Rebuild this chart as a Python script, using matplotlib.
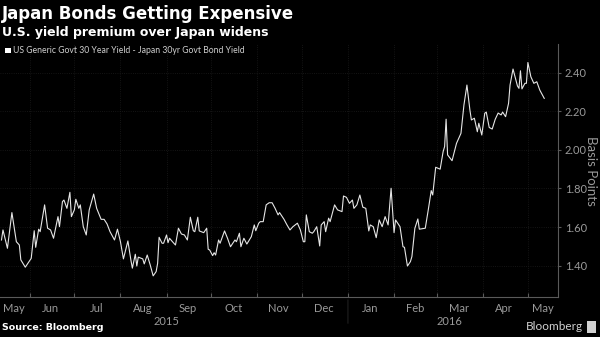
import pandas as pd
import matplotlib
matplotlib.use("Agg")
import matplotlib.pyplot as plt
import matplotlib.dates as mdates
from matplotlib.patches import Rectangle

# --- Andmed (loetud pildilt) ---
dates = [
    "2015-05-13", "2015-05-14", "2015-05-17", "2015-05-20", "2015-05-23", "2015-05-25",
    "2015-05-26", "2015-05-29", "2015-06-02", "2015-06-04", "2015-06-05", "2015-06-07",
    "2015-06-08", "2015-06-11", "2015-06-13", "2015-06-15", "2015-06-17", "2015-06-20",
    "2015-06-21", "2015-06-23", "2015-06-24", "2015-06-26", "2015-06-28", "2015-06-29",
    "2015-07-01", "2015-07-02", "2015-07-04", "2015-07-05", "2015-07-07", "2015-07-09",
    "2015-07-11", "2015-07-14", "2015-07-16", "2015-07-19", "2015-07-21", "2015-07-23",
    "2015-07-25", "2015-07-28", "2015-07-30", "2015-08-01", "2015-08-03", "2015-08-06",
    "2015-08-08", "2015-08-09", "2015-08-11", "2015-08-12", "2015-08-13", "2015-08-16",
    "2015-08-17", "2015-08-19", "2015-08-21", "2015-08-23", "2015-08-25", "2015-08-26",
    "2015-08-27", "2015-08-29", "2015-08-30", "2015-09-01", "2015-09-02", "2015-09-03",
    "2015-09-05", "2015-09-07", "2015-09-09", "2015-09-11", "2015-09-13", "2015-09-15",
    "2015-09-17", "2015-09-19", "2015-09-20", "2015-09-22", "2015-09-23", "2015-09-26",
    "2015-09-28", "2015-09-29", "2015-09-30", "2015-10-02", "2015-10-03", "2015-10-04",
    "2015-10-06", "2015-10-07", "2015-10-10", "2015-10-12", "2015-10-14", "2015-10-17",
    "2015-10-18", "2015-10-20", "2015-10-21", "2015-10-23", "2015-10-25", "2015-10-27",
    "2015-10-28", "2015-10-30", "2015-10-31", "2015-11-02", "2015-11-03", "2015-11-05",
    "2015-11-07", "2015-11-09", "2015-11-11", "2015-11-13", "2015-11-15", "2015-11-16",
    "2015-11-19", "2015-11-21", "2015-11-23", "2015-11-25", "2015-11-28", "2015-11-30",
    "2015-12-02", "2015-12-03", "2015-12-04", "2015-12-06", "2015-12-08", "2015-12-09",
    "2015-12-11", "2015-12-13", "2015-12-14", "2015-12-16", "2015-12-17", "2015-12-19",
    "2015-12-20", "2015-12-23", "2015-12-25", "2015-12-28", "2015-12-29", "2015-12-31",
    "2016-01-02", "2016-01-04", "2016-01-05", "2016-01-07", "2016-01-09", "2016-01-11",
    "2016-01-13", "2016-01-15", "2016-01-16", "2016-01-18", "2016-01-20", "2016-01-22",
    "2016-01-24", "2016-01-26", "2016-01-28", "2016-01-30", "2016-02-01", "2016-02-02",
    "2016-02-05", "2016-02-07", "2016-02-08", "2016-02-10", "2016-02-12", "2016-02-13",
    "2016-02-15", "2016-02-17", "2016-02-18", "2016-02-22", "2016-02-24", "2016-02-26",
    "2016-02-27", "2016-02-29", "2016-03-03", "2016-03-05", "2016-03-06", "2016-03-07",
    "2016-03-08", "2016-03-11", "2016-03-14", "2016-03-17", "2016-03-19", "2016-03-21",
    "2016-03-23", "2016-03-24", "2016-03-26", "2016-03-28", "2016-03-29", "2016-03-31",
    "2016-04-02", "2016-04-03", "2016-04-05", "2016-04-07", "2016-04-09", "2016-04-11",
    "2016-04-13", "2016-04-14", "2016-04-16", "2016-04-18", "2016-04-19", "2016-04-21",
    "2016-04-24", "2016-04-25", "2016-04-26", "2016-04-27", "2016-04-29", "2016-04-30",
    "2016-05-01", "2016-05-03", "2016-05-05", "2016-05-07", "2016-05-09", "2016-05-12",
]
spread = [
    1.533, 1.585, 1.490, 1.675, 1.524, 1.507,
    1.430, 1.392, 1.438, 1.581, 1.495, 1.589,
    1.576, 1.715, 1.594, 1.585, 1.542, 1.654,
    1.602, 1.732, 1.740, 1.697, 1.780, 1.654,
    1.689, 1.744, 1.697, 1.715, 1.602, 1.559,
    1.689, 1.771, 1.697, 1.640, 1.640, 1.616,
    1.576, 1.533, 1.589, 1.524, 1.435, 1.528,
    1.430, 1.387, 1.459, 1.398, 1.444, 1.435,
    1.409, 1.455, 1.404, 1.347, 1.369, 1.412,
    1.547, 1.516, 1.516, 1.559, 1.519, 1.542,
    1.524, 1.507, 1.594, 1.564, 1.559, 1.533,
    1.651, 1.581, 1.576, 1.651, 1.580, 1.571,
    1.594, 1.485, 1.481, 1.452, 1.467, 1.455,
    1.533, 1.516, 1.580, 1.542, 1.498, 1.533,
    1.524, 1.568, 1.498, 1.542, 1.512, 1.537,
    1.550, 1.611, 1.581, 1.620, 1.628, 1.628,
    1.715, 1.726, 1.726, 1.697, 1.663, 1.675,
    1.640, 1.611, 1.585, 1.602, 1.620, 1.585,
    1.524, 1.524, 1.663, 1.576, 1.568, 1.576,
    1.602, 1.502, 1.611, 1.628, 1.576, 1.646,
    1.628, 1.715, 1.689, 1.680, 1.761, 1.754,
    1.723, 1.740, 1.697, 1.715, 1.766, 1.703,
    1.697, 1.580, 1.611, 1.602, 1.545, 1.637,
    1.602, 1.654, 1.611, 1.801, 1.571, 1.637,
    1.602, 1.498, 1.495, 1.398, 1.421, 1.447,
    1.594, 1.642, 1.589, 1.594, 1.689, 1.789,
    1.766, 1.910, 1.900, 1.991, 2.017, 2.159,
    1.974, 1.944, 2.034, 2.086, 2.233, 2.336,
    2.207, 2.155, 2.164, 2.094, 2.138, 2.077,
    2.190, 2.196, 2.116, 2.108, 2.158, 2.191,
    2.181, 2.196, 2.172, 2.241, 2.336, 2.419,
    2.331, 2.319, 2.410, 2.316, 2.345, 2.345,
    2.453, 2.379, 2.345, 2.353, 2.310, 2.267,
]
yticks = [1.40, 1.60, 1.80, 2.00, 2.20, 2.40]
month_labels = ["May", "Jun", "Jul", "Aug", "Sep", "Oct", "Nov",
                "Dec", "Jan", "Feb", "Mar", "Apr", "May"]
month_label_pos = ["2015-05-21", "2015-06-15", "2015-07-16", "2015-08-16", "2015-09-15",
                   "2015-10-16", "2015-11-15", "2015-12-16", "2016-01-16", "2016-02-15",
                   "2016-03-16", "2016-04-15", "2016-05-11"]
year_labels = ["2015", "2016"]
year_label_pos = ["2015-09-01", "2016-03-09"]

x = pd.to_datetime(dates)
BG = "black"
GRAY = "#9a9a9a"
FONT = ["Lato", "DejaVu Sans"]

fig = plt.figure(figsize=(6.0, 3.37), dpi=100, facecolor=BG)
ax = fig.add_axes([0.0, 0.1187, 0.93, 0.7507], facecolor=BG)

ax.plot(x, spread, color="#e6e6e6", lw=0.8, solid_joinstyle="round")

ax.set_xlim(pd.Timestamp("2015-05-12"), pd.Timestamp("2016-05-21 06:00"))
ax.set_ylim(1.2375, 2.5487)

# --- Teljed ---
for s in ("left", "top"):
    ax.spines[s].set_visible(False)
for s in ("right", "bottom"):
    ax.spines[s].set_color("#5a5a5a")
    ax.spines[s].set_linewidth(0.8)

ax.yaxis.tick_right()
ax.set_yticks(yticks)
ax.set_yticklabels([f"{v:.2f}" for v in yticks], fontfamily=FONT, fontsize=8, color=GRAY)
ax.tick_params(axis="y", colors="#5a5a5a", length=2, width=0.8, pad=3, labelcolor=GRAY)
ax.yaxis.set_label_position("right")
ax.set_ylabel("Basis Points", rotation=270, color=GRAY, fontfamily=FONT, fontsize=9.5,
              labelpad=7)

ax.xaxis.set_major_locator(mdates.MonthLocator())
ax.xaxis.set_major_formatter(plt.NullFormatter())
ax.tick_params(axis="x", which="major", colors="#5a5a5a", length=3, width=0.8, direction="in")
ax.set_xticks(pd.to_datetime(month_label_pos), minor=True)
ax.set_xticklabels(month_labels, minor=True, fontfamily=FONT, fontsize=8, color=GRAY)
ax.tick_params(axis="x", which="minor", length=0, pad=4, labelcolor=GRAY)

ax.grid(True, which="major", color="#1c1c1c", lw=0.6, ls=":")

# aastad
for lbl, pos in zip(year_labels, year_label_pos):
    ax.annotate(lbl, xy=(pd.Timestamp(pos), 0), xycoords=("data", "axes fraction"),
                xytext=(0, -18), textcoords="offset points", ha="center", va="center",
                fontfamily=FONT, fontsize=8, color=GRAY, annotation_clip=False)
ax.annotate("", xy=(pd.Timestamp("2016-01-01"), 0), xycoords=("data", "axes fraction"),
            xytext=(0, -21), textcoords="offset points",
            arrowprops=dict(arrowstyle="-", color="#2a2a2a", lw=0.6), annotation_clip=False)

# --- Pealkirjad ---
fig.text(0.004, 0.958, "Japan Bonds Getting Expensive", color="white", fontsize=12,
         fontweight="bold", va="center", ha="left")
fig.text(0.004, 0.905, "U.S. yield premium over Japan widens", color="white", fontsize=9,
         fontweight="bold", va="center", ha="left")

# legend
fig.patches.append(Rectangle((0.0085, 0.842), 0.0095, 0.017, transform=fig.transFigure,
                             facecolor="white", edgecolor="none"))
fig.text(0.022, 0.851, "US Generic Govt 30 Year Yield - Japan 30yr Govt Bond Yield",
         color="#cfcfcf", fontsize=6.2, fontfamily=FONT, va="center", ha="left")

# allikas
fig.text(0.004, 0.028, "Source: Bloomberg", color="white", fontsize=6.8, fontweight="bold",
         va="center", ha="left")
fig.text(0.972, 0.03, "Bloomberg", color="#d0d0d0", fontsize=8.5, fontfamily=FONT,
         va="center", ha="right")
fig.patches.append(Rectangle((0.978, 0.013), 0.016, 0.034, transform=fig.transFigure,
                             facecolor="#d0d0d0", edgecolor="none"))

fig.savefig("out.png", dpi=100, facecolor=BG)
